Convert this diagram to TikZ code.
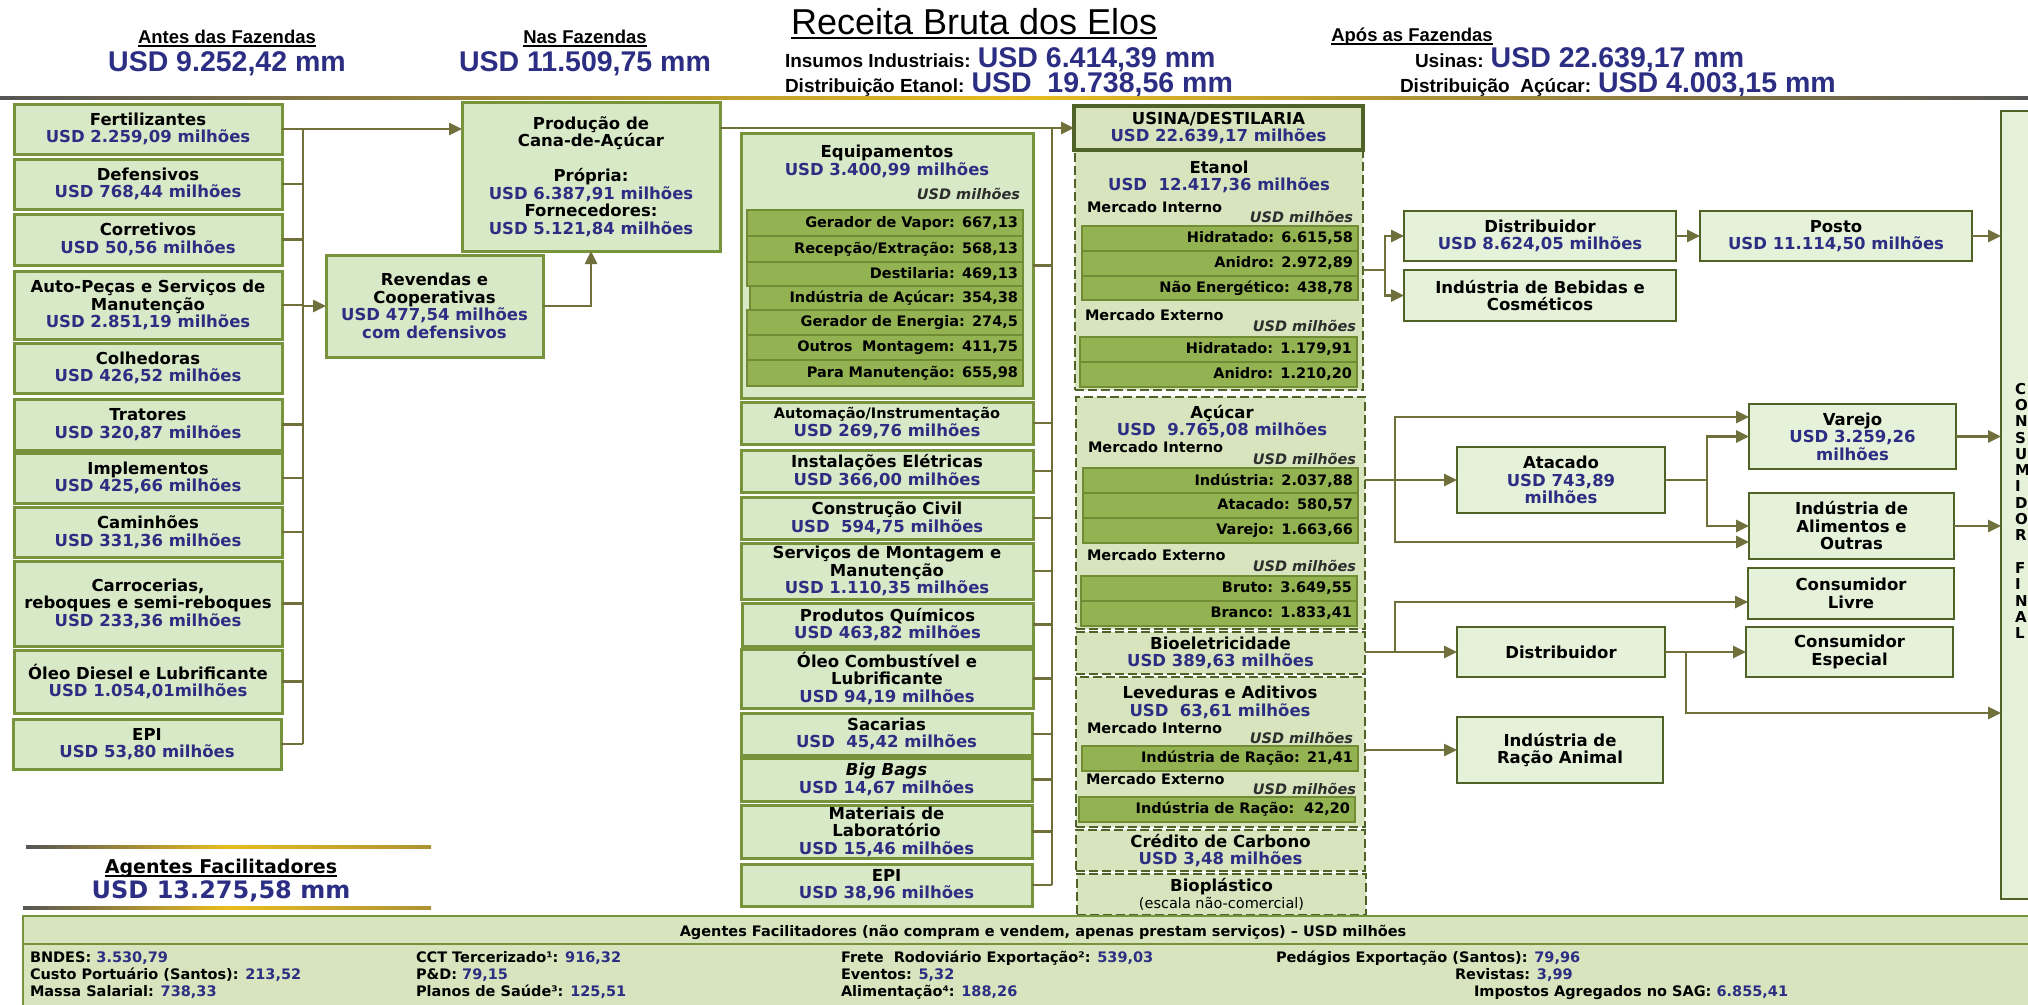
\documentclass[tikz,border=0pt]{standalone}
\usepackage{fontspec}
\setmainfont{DejaVu Sans}
\newfontfamily\arialf{Liberation Sans}
\usetikzlibrary{arrows.meta,calc}

\definecolor{navy}{RGB}{44,46,131}
\definecolor{boxfill}{RGB}{216,233,199}
\definecolor{boxline}{RGB}{119,147,60}
\definecolor{darkol}{RGB}{79,98,40}
\definecolor{rfill}{RGB}{230,241,218}
\definecolor{ufill}{RGB}{215,228,189}
\definecolor{rowfill}{RGB}{147,178,82}
\definecolor{rowline}{RGB}{112,140,52}
\definecolor{wirec}{RGB}{112,112,60}
\definecolor{gold}{RGB}{232,188,30}
\definecolor{rulegray}{RGB}{85,85,85}
\definecolor{unitgray}{RGB}{45,45,45}

\newcommand\nv[1]{\textcolor{navy}{#1}}
\newcommand\hlab[1]{{\arialf\bfseries\fontsize{19}{21}\selectfont #1}}
\newcommand\hval[1]{{\arialf\bfseries\fontsize{28.5}{31}\selectfont\color{navy}#1}}
% box from (x1,y1) to (x2,y2): style, x1, y1, x2, y2, name, text
\newcommand\bx[7]{%
  \pgfmathsetmacro\bxw{#4-#2}\pgfmathsetmacro\bxh{#5-#3}%
  \pgfmathsetmacro\bxx{(#2+#4)/2}\pgfmathsetmacro\bxy{(#3+#5)/2}%
  \node[#1, minimum width=\bxw pt, minimum height=\bxh pt] (#6) at (\bxx,\bxy) {#7};}
% table row with right aligned text: name, x1, y1, x2, y2, text
\newcommand\rw[6]{%
  \pgfmathsetmacro\bxw{#4-#2-10}\pgfmathsetmacro\bxh{#5-#3}%
  \pgfmathsetmacro\bxx{(#2+#4)/2}\pgfmathsetmacro\bxy{(#3+#5)/2}%
  \node[rowbox, text width=\bxw pt, minimum height=\bxh pt] (#1) at (\bxx,\bxy) {#6};}
\newcommand\ulin[1]{\draw[line width=1.8pt] ([yshift=-3pt]#1.base west) -- ([yshift=-3pt]#1.base east);}

\tikzset{
  every node/.style={inner sep=0pt, outer sep=0pt},
  txt/.style={font=\fontsize{16.5}{17.5}\selectfont\bfseries, align=center},
  lbox/.style={draw=boxline, fill=boxfill, line width=3pt, txt},
  rbox/.style={draw=darkol, fill=rfill, line width=2.5pt, txt},
  ubox/.style={draw=darkol, fill=ufill, line width=3.5pt, txt},
  dbox/.style={draw=darkol, fill=ufill, line width=2.5pt, dash pattern=on 9pt off 4pt, txt},
  agb/.style={draw=boxline, fill=ufill, line width=2.5pt},
  rowbox/.style={draw=rowline, fill=rowfill, line width=1.5pt, font=\fontsize{14.5}{16}\selectfont\bfseries, align=right, inner xsep=5pt},
  conn/.style={draw=wirec, line width=2.5pt},
  arr/.style={conn, -{Triangle[length=13pt,width=12pt]}},
  hdl/.style={font=\arialf\bfseries\fontsize{18.5}{20}\selectfont, anchor=base},
  hvl/.style={font=\arialf\bfseries\fontsize{28.5}{31}\selectfont, text=navy, anchor=base},
  ttl2/.style={font=\fontsize{16.5}{17.5}\selectfont\bfseries, anchor=base},
  mi/.style={font=\fontsize{14.5}{16}\selectfont\bfseries, anchor=base west},
  um/.style={font=\fontsize{14.5}{16}\selectfont\bfseries\itshape, text=unitgray, anchor=base east},
  bt/.style={font=\fontsize{14.5}{16}\selectfont\bfseries},
}

\begin{document}
\begin{tikzpicture}[x=1pt,y=-1pt]
\useasboundingbox (0,0) rectangle (2028,1004);
\fill[white] (0,0) rectangle (2028,1004);
\clip (0,0) rectangle (2028,1004);

% ---------- header ----------
\node[hdl] (antes) at (227,43) {Antes das Fazendas};
\ulin{antes}
\node[hvl] (antesV) at (227,71) {USD 9.252,42 mm};
\node[hdl] (nas) at (585,43) {Nas Fazendas};
\ulin{nas}
\node[hvl] (nasV) at (585,71) {USD 11.509,75 mm};
\node[anchor=base west, font=\arialf\fontsize{36}{40}\selectfont] (ttl) at (791,34) {Receita Bruta dos Elos};
\draw[line width=2.2pt] ([yshift=-4pt]ttl.base west) -- ([yshift=-4pt]ttl.base east);
\node[anchor=base west] (ins) at (785,67) {\hlab{Insumos Industriais: }\hval{USD 6.414,39 mm}};
\node[anchor=base west] (detn) at (785,92) {\hlab{Distribuição Etanol: }\hval{USD\ \ 19.738,56 mm}};
\node[hdl] (apos) at (1412,41) {Após as Fazendas};
\ulin{apos}
\node[anchor=base west] (usn) at (1415,67) {\hlab{Usinas: }\hval{USD 22.639,17 mm}};
\node[anchor=base west] (dacu) at (1400,92) {\hlab{Distribuição\ \ Açúcar: }\hval{USD 4.003,15 mm}};

\shade[left color=rulegray, right color=rulegray, middle color=gold] (0,96.5) rectangle (2028,99.5);

% ---------- inputs before the farms ----------
\bx{lbox}{14}{104}{282}{154}{fert}{Fertilizantes\\\nv{USD 2.259,09 milhões}}
\bx{lbox}{14}{159}{282}{209}{def}{Defensivos\\\nv{USD 768,44 milhões}}
\bx{lbox}{14}{214}{282}{265}{corr}{Corretivos\\\nv{USD 50,56 milhões}}
\bx{lbox}{14}{271}{282}{339}{auto}{Auto-Peças e Serviços de\\Manutenção\\\nv{USD 2.851,19 milhões}}
\bx{lbox}{14}{343}{282}{393}{colh}{Colhedoras\\\nv{USD 426,52 milhões}}
\bx{lbox}{14}{399}{282}{450}{trat}{Tratores\\\nv{USD 320,87 milhões}}
\bx{lbox}{14}{453}{282}{503}{impl}{Implementos\\\nv{USD 425,66 milhões}}
\bx{lbox}{14}{507}{282}{557}{cam}{Caminhões\\\nv{USD 331,36 milhões}}
\bx{lbox}{14}{561}{282}{646}{carr}{Carrocerias,\\reboques e semi-reboques\\\nv{USD 233,36 milhões}}
\bx{lbox}{14}{650}{282}{713}{oleo}{Óleo Diesel e Lubrificante\\\nv{USD 1.054,01milhões}}
\bx{lbox}{13}{719}{281}{769}{epiL}{EPI\\\nv{USD 53,80 milhões}}

\bx{lbox}{326}{255}{543}{357}{rev}{Revendas e\\Cooperativas\\\nv{USD 477,54 milhões}\\\nv{com defensivos}}
\bx{lbox}{462}{102}{720}{251}{prod}{Produção de\\Cana-de-Açúcar\\[17.5pt]Própria:\\\nv{USD 6.387,91 milhões}\\Fornecedores:\\\nv{USD 5.121,84 milhões}}

\coordinate (busL) at (303,0);
\foreach \b in {fert,def,corr,auto,trat,impl,cam,carr,oleo,epiL}
  \draw[conn] (\b.east) -- (\b.east -| busL);
\draw[conn] (busL |- fert.east) -- (busL |- epiL.east);
\draw[arr] (fert.east) -- (fert.east -| prod.west);
\draw[arr] (busL |- rev.west) -- (rev.west);
\draw[arr] (rev.east) -| (prod.south);

% ---------- industrial inputs ----------
\bx{lbox}{741}{133}{1033}{398}{equip}{}
\node[ttl2] (eqT) at (887,157) {Equipamentos};
\node[ttl2, text=navy] (eqV) at (887,175) {USD 3.400,99 milhões};
\node[um] (eqU) at (1020,199) {USD milhões};
\rw{eq1}{747}{210}{1023}{236}{Gerador de Vapor: 667,13}
\rw{eq2}{747}{236}{1023}{262}{Recepção/Extração: 568,13}
\rw{eq3}{747}{262}{1023}{286}{Destilaria: 469,13}
\rw{eq4}{750}{286}{1023}{310}{Indústria de Açúcar: 354,38}
\rw{eq5}{747}{310}{1023}{335}{Gerador de Energia: 274,5}
\rw{eq6}{747}{335}{1023}{360}{Outros\ \ Montagem: 411,75}
\rw{eq7}{747}{360}{1023}{386}{Para Manutenção: 655,98}

\bx{lbox}{741}{402}{1033}{444}{autom}{{\fontsize{14.5}{17.5}\selectfont Automação/Instrumentação}\\\nv{USD 269,76 milhões}}
\bx{lbox}{741}{450}{1033}{492}{inst}{Instalações Elétricas\\\nv{USD 366,00 milhões}}
\bx{lbox}{741}{497}{1033}{539}{civil}{Construção Civil\\\nv{USD\ \ 594,75 milhões}}
\bx{lbox}{741}{543}{1033}{599}{serv}{Serviços de Montagem e\\Manutenção\\\nv{USD 1.110,35 milhões}}
\bx{lbox}{742}{603}{1033}{646}{quim}{Produtos Químicos\\\nv{USD 463,82 milhões}}
\bx{lbox}{741}{649}{1033}{708}{oleoC}{Óleo Combustível e\\Lubrificante\\\nv{USD 94,19 milhões}}
\bx{lbox}{741}{713}{1032}{755}{sac}{Sacarias\\\nv{USD\ \ 45,42 milhões}}
\bx{lbox}{741}{758}{1032}{801}{bigb}{\textit{Big Bags}\\\nv{USD 14,67 milhões}}
\bx{lbox}{741}{805}{1032}{858}{lab}{Materiais de\\Laboratório\\\nv{USD 15,46 milhões}}
\bx{lbox}{741}{864}{1032}{906}{epiM}{EPI\\\nv{USD 38,96 milhões}}

\coordinate (busM) at (1052,128);
\foreach \b in {equip,autom,inst,civil,serv,quim,oleoC,sac,bigb,lab,epiM}
  \draw[conn] (\b.east) -- (\b.east -| busM);
\draw[conn] (busM) -- (busM |- epiM.east);

% ---------- mill ----------
\bx{dbox}{1075}{150}{1363}{390}{etanol}{}
\node[ttl2] (etT) at (1219,173) {Etanol};
\node[ttl2, text=navy] (etV) at (1219,190) {USD\ \ 12.417,36 milhões};
\node[mi] (etMI) at (1087,212) {Mercado Interno};
\node[um] (etU1) at (1353,222) {USD milhões};
\rw{et1}{1082}{226}{1358}{251}{Hidratado: 6.615,58}
\rw{et2}{1082}{251}{1358}{276}{Anidro: 2.972,89}
\rw{et3}{1082}{276}{1358}{300}{Não Energético: 438,78}
\node[mi] (etME) at (1085,320) {Mercado Externo};
\node[um] (etU2) at (1356,331) {USD milhões};
\rw{et4}{1080}{337}{1357}{362}{Hidratado: 1.179,91}
\rw{et5}{1080}{362}{1357}{387}{Anidro: 1.210,20}

\bx{ubox}{1074}{106}{1363}{150}{usina}{USINA/DESTILARIA\\\nv{USD 22.639,17 milhões}}
\draw[arr] (prod.east |- usina.west) -- (usina.west);

\bx{dbox}{1076}{397}{1365}{629}{acucar}{}
\node[ttl2] (acT) at (1222,418) {Açúcar};
\node[ttl2, text=navy] (acV) at (1222,435) {USD\ \ 9.765,08 milhões};
\node[mi] (acMI) at (1088,452) {Mercado Interno};
\node[um] (acU1) at (1356,464) {USD milhões};
\rw{ac1}{1083}{468}{1358}{493}{Indústria: 2.037,88}
\rw{ac2}{1083}{493}{1358}{518}{Atacado: 580,57}
\rw{ac3}{1083}{518}{1358}{543}{Varejo: 1.663,66}
\node[mi] (acME) at (1087,560) {Mercado Externo};
\node[um] (acU2) at (1356,571) {USD milhões};
\rw{ac4}{1081}{576}{1357}{601}{Bruto: 3.649,55}
\rw{ac5}{1081}{601}{1357}{626}{Branco: 1.833,41}

\bx{dbox}{1076}{632}{1365}{674}{bio}{Bioeletricidade\\\nv{USD 389,63 milhões}}

\bx{dbox}{1076}{677}{1365}{827}{lev}{}
\node[ttl2] (lvT) at (1220,698) {Leveduras e Aditivos};
\node[ttl2, text=navy] (lvV) at (1220,716) {USD\ \ 63,61 milhões};
\node[mi] (lvMI) at (1087,733) {Mercado Interno};
\node[um] (lvU1) at (1353,743) {USD milhões};
\rw{lv1}{1082}{746}{1358}{771}{Indústria de Ração: 21,41}
\node[mi] (lvME) at (1086,784) {Mercado Externo};
\node[um] (lvU2) at (1356,794) {USD milhões};
\rw{lv2}{1079}{797}{1355}{822}{Indústria de Ração:\ \ 42,20}

\bx{dbox}{1076}{830}{1365}{871}{cred}{Crédito de Carbono\\\nv{USD 3,48 milhões}}
\bx{dbox}{1077}{874}{1366}{915}{biop}{Bioplástico\\{\fontsize{14.5}{16}\selectfont\mdseries (escala não-comercial)}}

% ---------- after the farms ----------
\bx{rbox}{2001}{111}{2045}{899}{cfinal}{}
\node[anchor=north west, align=left, font=\fontsize{15}{16.3}\selectfont\bfseries] (cfT) at (2015,383)
  {C\\O\\N\\S\\U\\M\\I\\D\\O\\R\\[16.3pt]F\\I\\N\\A\\L};

\bx{rbox}{1404}{211}{1676}{261}{distE}{Distribuidor\\\nv{USD 8.624,05 milhões}}
\bx{rbox}{1700}{211}{1972}{261}{posto}{Posto\\\nv{USD 11.114,50 milhões}}
\bx{rbox}{1404}{270}{1676}{321}{bebidas}{Indústria de Bebidas e\\Cosméticos}
\bx{rbox}{1749}{404}{1956}{469}{varejo}{Varejo\\\nv{USD 3.259,26}\\\nv{milhões}}
\bx{rbox}{1457}{447}{1665}{513}{atac}{Atacado\\\nv{USD 743,89}\\\nv{milhões}}
\bx{rbox}{1749}{493}{1954}{559}{alim}{Indústria de\\Alimentos e\\Outras}
\bx{rbox}{1748}{568}{1954}{619}{clivre}{Consumidor\\Livre}
\bx{rbox}{1746}{627}{1953}{677}{cesp}{Consumidor\\Especial}
\bx{rbox}{1457}{627}{1665}{677}{distB}{Distribuidor}
\bx{rbox}{1457}{717}{1663}{783}{racao}{Indústria de\\Ração Animal}

% ethanol flow
\coordinate (fkE) at (1385,270);
\draw[conn] (etanol.east) -- (fkE);
\draw[arr] (fkE) |- (distE.west);
\draw[arr] (fkE) |- (bebidas.west);
\draw[arr] (distE.east) -- (posto.west);
\draw[arr] (posto.east) -- (posto.east -| cfinal.west);

% sugar flow
\coordinate (fkA) at (1395,480);
\coordinate (aTop) at (1395,417);
\coordinate (aBot) at (1395,542);
\draw[arr] (acucar.east |- atac.west) -- (atac.west);
\draw[arr] (fkA) |- (aTop -| varejo.west);
\draw[arr] (fkA) |- (aBot -| alim.west);
\coordinate (fkT) at (1707,480);
\draw[conn] (atac.east) -- (fkT);
\draw[arr] (fkT) |- (varejo.west);
\draw[arr] (fkT) |- (alim.west);
\draw[arr] (varejo.east) -- (varejo.east -| cfinal.west);
\draw[arr] (alim.east) -- (alim.east -| cfinal.west);

% electricity flow
\coordinate (fkB) at (1395,652);
\coordinate (bUp) at (1395,602);
\draw[arr] (bio.east |- distB.west) -- (distB.west);
\draw[arr] (fkB) |- (bUp -| clivre.west);
\coordinate (fkD) at (1686,652);
\coordinate (dLow) at (1686,713);
\draw[arr] (distB.east) -- (cesp.west);
\draw[arr] (fkD) |- (dLow -| cfinal.west);

% yeast flow
\draw[arr] (lev.east |- racao.west) -- (racao.west);

% ---------- facilitating agents ----------
\shade[left color=rulegray, right color=gold!60!rulegray, middle color=gold] (26,845) rectangle (431,848);
\node[anchor=base, font=\fontsize{19}{21}\selectfont\bfseries] (agT) at (221,873) {Agentes Facilitadores};
\ulin{agT}
\node[anchor=base, font=\fontsize{24}{26}\selectfont\bfseries, text=navy] (agV) at (221,898) {USD 13.275,58 mm};
\shade[left color=rulegray, right color=gold!60!rulegray, middle color=gold] (23,906) rectangle (431,909);

\bx{agb}{23}{916}{2045}{1015}{agbox}{}
\coordinate (agdiv) at (0,944);
\draw[boxline, line width=2pt] (agbox.west |- agdiv) -- (agbox.east |- agdiv);
\node[bt, anchor=base] (agHead) at (1043,936) {Agentes Facilitadores (não compram e vendem, apenas prestam serviços) – USD milhões};
\node[bt, anchor=base west] (r11) at (30,962) {BNDES: \nv{3.530,79}};
\node[bt, anchor=base west] (r21) at (30,979) {Custo Portuário (Santos): \nv{213,52}};
\node[bt, anchor=base west] (r31) at (30,996) {Massa Salarial: \nv{738,33}};
\node[bt, anchor=base west] (r12) at (416,962) {CCT Tercerizado¹: \nv{916,32}};
\node[bt, anchor=base west] (r22) at (416,979) {P\&D: \nv{79,15}};
\node[bt, anchor=base west] (r32) at (416,996) {Planos de Saúde³: \nv{125,51}};
\node[bt, anchor=base west] (r13) at (841,962) {Frete\ \ Rodoviário Exportação²: \nv{539,03}};
\node[bt, anchor=base west] (r23) at (841,979) {Eventos: \nv{5,32}};
\node[bt, anchor=base west] (r33) at (841,996) {Alimentação⁴: \nv{188,26}};
\node[bt, anchor=base west] (r14) at (1276,962) {Pedágios Exportação (Santos): \nv{79,96}};
\node[bt, anchor=base west] (r24) at (1455,979) {Revistas: \nv{3,99}};
\node[bt, anchor=base west] (r34) at (1474,996) {Impostos Agregados no SAG: \nv{6.855,41}};
\end{tikzpicture}
\end{document}
